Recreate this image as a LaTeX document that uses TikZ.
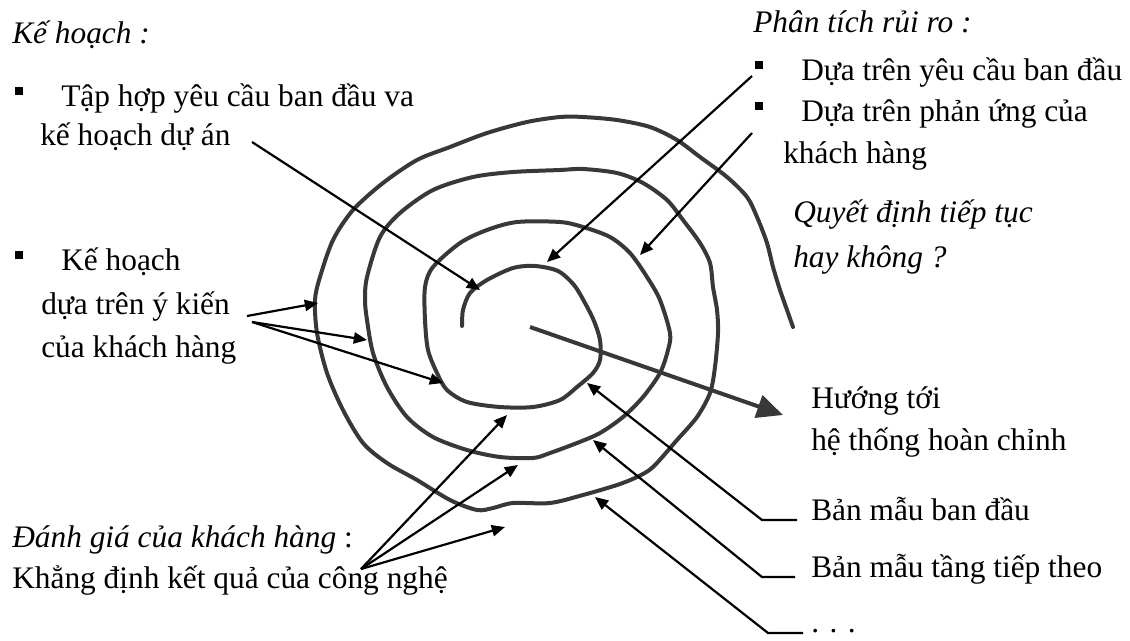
\documentclass[tikz,border=0pt]{standalone}
\usepackage{fontspec}
\setmainfont{Liberation Serif}
\usetikzlibrary{arrows.meta}
\newcommand{\bul}{\makebox[1.15cm][l]{\rule[0.27cm]{0.2cm}{0.21cm}}}

\begin{document}
\begin{tikzpicture}[
		x=0.025cm, y=-0.025cm,
		every node/.style={font=\fontsize{22.3}{30}\selectfont, inner sep=0pt, anchor=base west},
		notei/.style={font=\fontsize{22.3}{30}\selectfont\itshape},
		spiral/.style={draw=black!78, line width=0.1cm, line cap=round},
		arrow/.style={-{Triangle[length=0.33cm, width=0.28cm]}, line width=0.055cm},
		bigarrow/.style={-{Triangle[length=0.65cm, width=0.58cm]}, draw=black!78, line width=0.1cm}
		]
		\useasboundingbox (0,0) rectangle (1130,640);

		% texts
		\node[notei] (planT) at (12,43) {Kế hoạch :};
		\node (plan1) at (15,106) {\bul Tập hợp yêu cầu ban đầu va};
		\node (plan2) at (40,145) {kế hoạch dự án};
		\node (fb1) at (15,270) {\bul Kế hoạch};
		\node (fb2) at (41,314) {dựa trên ý kiến};
		\node (fb3) at (41,357) {của khách hàng};
		\node[notei] (riskT) at (753,32) {Phân tích rủi ro :};
		\node (risk1) at (755,80) {\bul Dựa trên yêu cầu ban đầu};
		\node (risk2) at (755,121) {\bul Dựa trên phản ứng của};
		\node (risk3) at (783,163) {khách hàng};
		\node[notei] (go1) at (793,222) {Quyết định tiếp tục};
		\node[notei] (go2) at (793,267) {hay không ?};
		\node (goal1) at (811,408) {Hướng tới};
		\node (goal2) at (811,450) {hệ thống hoàn chỉnh};
		\node (protoA) at (811,520) {Bản mẫu ban đầu};
		\node (protoB) at (811,577) {Bản mẫu tầng tiếp theo};
		\node (protoC) at (811,632) {. . .};
		\node (eval1) at (12,547) {\textit{Đánh giá của khách hàng} :};
		\node (eval2) at (12,588) {Khẳng định kết quả của công nghệ};

		% spiral
		\draw[spiral] plot[smooth] coordinates {(462,326) (463,310) (470,293) (487,280) (513,268) (535,266) (558,271) (574,285) (585,303) (594,321) (600,340) (600,360) (593,373) (577,387) (560,400) (533,407) (500,407) (467,402) (447,390) (437,373) (428,350) (425,320) (425,287) (433,267) (460,243) (487,230) (517,222) (560,222) (583,227) (610,237) (630,253) (647,277) (660,300) (670,333) (668,350) (660,373) (643,397) (623,417) (600,433) (577,443) (550,453) (533,458) (500,457) (467,450) (433,437) (407,417) (387,387) (373,353) (367,320) (365,300) (367,277) (380,237) (400,213) (433,190) (473,177) (513,172) (560,170) (583,169) (617,173) (643,183) (667,200) (683,220) (700,243) (710,263) (713,287) (717,310) (718,333) (715,367) (710,393) (697,417) (677,440) (653,467) (637,477) (617,485) (583,495) (550,503) (513,503) (493,508) (477,510) (450,500) (417,480) (387,463) (363,443) (343,410) (327,373) (317,333) (315,300) (320,277) (333,240) (353,210) (383,183) (417,160) (450,147) (487,133) (527,122) (560,117) (583,117) (617,120) (650,127) (677,140) (700,157) (727,177) (747,197) (757,217) (767,243) (773,267) (780,290) (787,310) (793,327)};

		% arrow ends
		\coordinate (cPlan) at (252,142);
		\coordinate (cPlanTip) at (480,290);
		\coordinate (cRisk) at (752,76);
		\coordinate (cRiskTip) at (547,262);
		\coordinate (cResp) at (752,133);
		\coordinate (cRespTip) at (640,255);
		\coordinate (cFbA) at (247,316);
		\coordinate (cFbB) at (252,322);
		\coordinate (cFbTip1) at (318,303);
		\coordinate (cFbTip2) at (367,340);
		\coordinate (cFbTip3) at (443,383);
		\coordinate (cEval) at (361,569);
		\coordinate (cEvalTip1) at (507,415);
		\coordinate (cEvalTip2) at (518,465);
		\coordinate (cEvalTip3) at (505,527);
		\coordinate (cCtr) at (530,327);
		\coordinate (cGoal) at (783,415);
		\coordinate (cA0) at (797,520);
		\coordinate (cA1) at (762,520);
		\coordinate (cATip) at (587,383);
		\coordinate (cB0) at (795,577);
		\coordinate (cB1) at (762,577);
		\coordinate (cBTip) at (593,440);
		\coordinate (cC0) at (803,633);
		\coordinate (cC1) at (768,633);
		\coordinate (cCTip) at (595,497);

		\draw[arrow] (cPlan) -- (cPlanTip);
		\draw[arrow] (cRisk) -- (cRiskTip);
		\draw[arrow] (cResp) -- (cRespTip);
		\draw[arrow] (cFbA) -- (cFbTip1);
		\draw[arrow] (cFbB) -- (cFbTip2);
		\draw[arrow] (cFbB) -- (cFbTip3);
		\draw[arrow] (cEval) -- (cEvalTip1);
		\draw[arrow] (cEval) -- (cEvalTip2);
		\draw[arrow] (cEval) -- (cEvalTip3);
		\draw[bigarrow] (cCtr) -- (cGoal);
		\draw[arrow] (cA0) -- (cA1) -- (cATip);
		\draw[arrow] (cB0) -- (cB1) -- (cBTip);
		\draw[arrow] (cC0) -- (cC1) -- (cCTip);

	\end{tikzpicture}
\end{document}
